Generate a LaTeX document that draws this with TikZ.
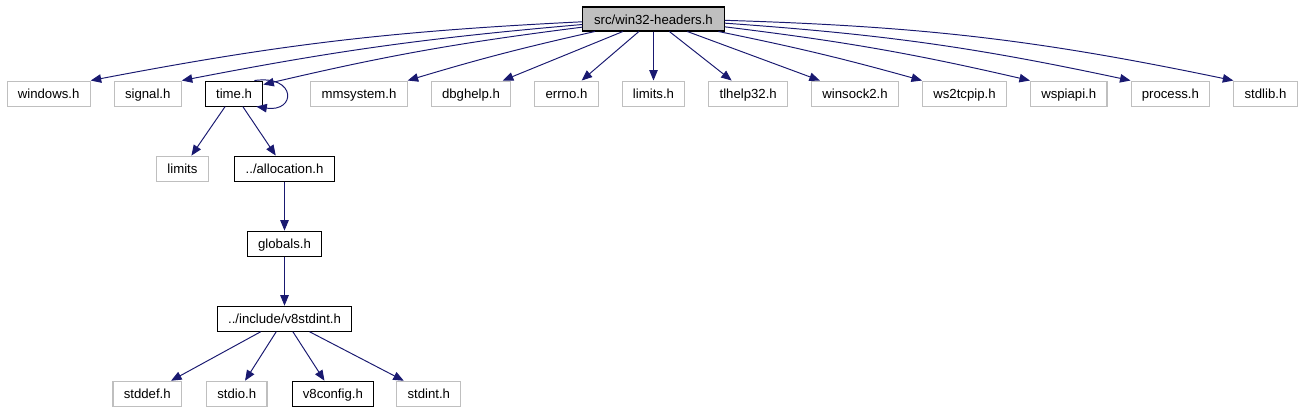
\documentclass[tikz,border=0pt]{standalone}
\usepackage{fontspec}
\setmainfont{Liberation Sans}
\usepackage{xcolor}
\usepackage{tikz}
\usetikzlibrary{arrows.meta, positioning}
\definecolor{DG_EDGE}{HTML}{191970}
\definecolor{DG_GREY}{HTML}{BFBFBF}
\tikzset{
  hdr/.style={
    rectangle, minimum height=0.5cm,
    inner xsep=0.216cm, inner ysep=0pt,
    text height=2.6mm, text depth=0.52mm,
    draw=black, fill=white, line width=0.6pt,
    font=\fontsize{7.5}{9}\selectfont},
  ext/.style={hdr, draw=DG_GREY},
  root/.style={hdr, minimum height=0.48cm, inner xsep=0.224cm, fill=DG_GREY},
  dep/.style={-{Triangle[length=0.21cm,width=0.17cm]}, color=DG_EDGE, line width=0.55pt},
}

\begin{document}
\begin{tikzpicture}[node distance=0.98cm and 0.46cm]

  \useasboundingbox (-13.07,0.38) rectangle (12.99,-7.84);

  \node[root] (top) {src/win32-headers.h};

  % first row, spread out from the middle
  \node[ext, below=of top] (limh) {limits.h};
  \node[ext, left=of limh] (errno) {errno.h};
  \node[ext, left=of errno] (dbghelp) {dbghelp.h};
  \node[ext, left=of dbghelp] (mmsys) {mmsystem.h};
  \node[hdr, left=0.94cm of mmsys] (timeh) {time.h};
  \node[ext, left=of timeh] (signal) {signal.h};
  \node[ext, left=of signal] (windows) {windows.h};
  \node[ext, right=of limh] (tlhelp) {tlhelp32.h};
  \node[ext, right=of tlhelp] (winsock) {winsock2.h};
  \node[ext, right=of winsock] (wstcp) {ws2tcpip.h};
  \node[ext, right=of wstcp] (wspi) {wspiapi.h};
  \node[ext, right=of wspi] (process) {process.h};
  \node[ext, right=of process] (stdlib) {stdlib.h};

  % chain below time.h
  \node[ext, below left=0.98cm and -0.08cm of timeh] (lim) {limits};
  \node[hdr, below right=0.98cm and -0.58cm of timeh] (alloc) {../allocation.h};
  \node[hdr, below=of alloc] (globals) {globals.h};
  \node[hdr, below=of globals] (v8int) {../include/v8stdint.h};

  \node[ext, below left=0.98cm and 0.34cm of v8int.south] (stdio) {stdio.h};
  \node[hdr, below right=0.98cm and 0.14cm of v8int.south] (v8conf) {v8config.h};
  \node[ext, left=0.48cm of stdio] (stddef) {stddef.h};
  \node[ext, right=0.44cm of v8conf] (stdint) {stdint.h};

  \draw[dep] (top) to[bend right=4] (windows.north east);
  \draw[dep] (top) to[bend right=3] (signal.north east);
  \draw[dep] (top) to[bend right=3] ([yshift=-0.08cm]timeh.north east);
  \draw[dep] (top) to[bend right=2] (mmsys.north east);
  \draw[dep] (top) -- (dbghelp);
  \draw[dep] (top) -- (errno);
  \draw[dep] (top) -- (limh);
  \draw[dep] (top) -- (tlhelp);
  \draw[dep] (top) -- (winsock);
  \draw[dep] (top) to[bend left=2] (wstcp.north west);
  \draw[dep] (top) to[bend left=3] (wspi.north west);
  \draw[dep] (top) to[bend left=4] (process.north west);
  \draw[dep] (top) to[bend left=5] (stdlib.north west);

  \draw[dep] ([xshift=-0.18cm]timeh.north east)
    .. controls +(0.85,0.12) and +(0.8,-0.12) ..
    ([xshift=-0.14cm]timeh.south east);
  \draw[dep] (timeh) -- (lim);
  \draw[dep] (timeh) -- (alloc);
  \draw[dep] (alloc) -- (globals);
  \draw[dep] (globals) -- (v8int);
  \draw[dep] (v8int) -- (stddef);
  \draw[dep] (v8int) -- (stdio);
  \draw[dep] (v8int) -- (v8conf);
  \draw[dep] (v8int) -- (stdint);

\end{tikzpicture}
\end{document}
